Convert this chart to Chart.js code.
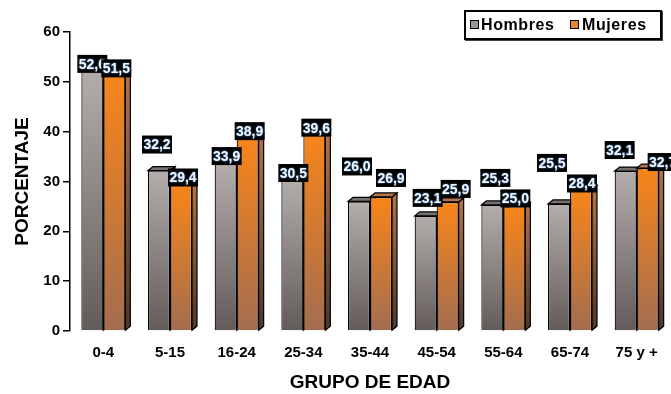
<!DOCTYPE html>
<html>
<head>
<meta charset="utf-8">
<script src="https://cdn.jsdelivr.net/npm/chart.js@4.4.0/dist/chart.umd.min.js"></script>
<style>
  html, body { margin: 0; padding: 0; background: #fff; }
  #wrap { position: relative; width: 671px; height: 394px; }
  #leyenda {
    position: absolute; left: 464px; top: 10px; width: 194px; height: 26px;
    border: 2px solid #000; box-shadow: 1px 1px 0 #444; background: #fff;
    font: bold 16px "Liberation Sans", Arial, sans-serif; letter-spacing: 0.6px;
  }
  #leyenda .cuadro { position: absolute; top: 8px; width: 7px; height: 7px; border: 1.5px solid #000; }
  #leyenda .texto { position: absolute; top: 3px; line-height: 20px; }
</style>
</head>
<body>
<div id="wrap">
  <canvas id="grafico" width="671" height="394"></canvas>
  <div id="leyenda">
    <span class="cuadro" style="left:4px;background:#9d9694"></span><span class="texto" style="left:15px">Hombres</span>
    <span class="cuadro" style="left:104px;background:#ee8429"></span><span class="texto" style="left:116px">Mujeres</span>
  </div>
</div>
<script>
var grupos = ['0-4', '5-15', '16-24', '25-34', '35-44', '45-54', '55-64', '65-74', '75 y +'];
var hombres = [52.6, 32.2, 33.9, 30.5, 26.0, 23.1, 25.3, 25.5, 32.1];
var mujeres = [51.5, 29.4, 38.9, 39.6, 26.9, 25.9, 25.0, 28.4, 32.7];
var ticksY = [0, 10, 20, 30, 40, 50, 60];

// ajuste manual de las etiquetas (px respecto a la punta de cada barra), como en el original
var etiquetaAlto = [
    [5, 26, 6, 6, 35, 18, 27, 41, 21],
    [6, 7, 6, 6, 19, 13, 8, 6, 6]
];
var etiquetaLado = [
    [0, -2, 1, 1, -2, 2, 3, -7, -6],
    [2, 2, 2, 2, 10, 8, 1, 1, 15]
];

var fuente = '"Liberation Sans", Arial, sans-serif';

// relleno degradado por barra (claro arriba, oscuro abajo)
function degradado(arriba, abajo) {
    return function (ctx) {
        var chart = ctx.chart;
        var area = chart.chartArea;
        if (!area || ctx.type !== 'data') return arriba;
        var y = chart.scales.y.getPixelForValue(ctx.raw);
        var g = chart.ctx.createLinearGradient(0, y, 0, area.bottom);
        g.addColorStop(0, arriba);
        g.addColorStop(1, abajo);
        return g;
    };
}

var caras = [
    { lado: ['#6d6664', '#3f3937'], tapa: '#77706e' },
    { lado: ['#b0714a', '#4d372b'], tapa: '#b4764e' }
];

// caras laterales y superiores (efecto 3D), detras de las barras
var efecto3D = {
    id: 'efecto3D',
    beforeDatasetsDraw: function (chart) {
        var c = chart.ctx;
        var dx = 5, dy = 4;
        chart.data.datasets.forEach(function (ds, i) {
            var meta = chart.getDatasetMeta(i);
            meta.data.forEach(function (el) {
                var p = el.getProps(['x', 'y', 'base', 'width'], true);
                var x0 = p.x - p.width / 2, x1 = p.x + p.width / 2;
                c.save();
                c.lineWidth = 1.2;
                c.strokeStyle = '#000';
                var g = c.createLinearGradient(0, p.y, 0, p.base);
                g.addColorStop(0, caras[i].lado[0]);
                g.addColorStop(1, caras[i].lado[1]);
                c.fillStyle = g;
                c.beginPath();
                c.moveTo(x1, p.y);
                c.lineTo(x1 + dx, p.y - dy);
                c.lineTo(x1 + dx, p.base - dy);
                c.lineTo(x1, p.base);
                c.closePath();
                c.fill();
                c.stroke();
                c.fillStyle = caras[i].tapa;
                c.beginPath();
                c.moveTo(x0, p.y);
                c.lineTo(x0 + dx, p.y - dy);
                c.lineTo(x1 + dx, p.y - dy);
                c.lineTo(x1, p.y);
                c.closePath();
                c.fill();
                c.stroke();
                c.restore();
            });
        });
    }
};

// etiquetas de valor en caja negra
var etiquetas = {
    id: 'etiquetas',
    afterDatasetsDraw: function (chart) {
        var c = chart.ctx;
        chart.data.datasets.forEach(function (ds, i) {
            var meta = chart.getDatasetMeta(i);
            meta.data.forEach(function (el, j) {
                var p = el.getProps(['x', 'y'], true);
                var txt = ds.data[j].toFixed(1).replace('.', ',');
                var w = 30, h = 18;
                var cx = p.x + etiquetaLado[i][j];
                var cy = p.y - etiquetaAlto[i][j];
                c.save();
                c.fillStyle = '#000';
                c.fillRect(cx - w / 2, cy - h / 2, w, h);
                c.font = 'bold 14px ' + fuente;
                c.textAlign = 'center';
                c.textBaseline = 'middle';
                c.shadowColor = '#5d9fe0';
                c.shadowBlur = 2;
                c.fillStyle = '#eef5ff';
                c.fillText(txt, cx, cy + 1);
                c.restore();
            });
        });
    }
};

var grafico = new Chart(document.getElementById('grafico').getContext('2d'), {
    type: 'bar',
    data: {
        labels: grupos,
        datasets: [
            {
                label: 'Hombres',
                data: hombres,
                backgroundColor: degradado('#b3adab', '#625b59'),
                borderColor: '#000',
                borderWidth: 1.2
            },
            {
                label: 'Mujeres',
                data: mujeres,
                backgroundColor: degradado('#f8851a', '#a36d50'),
                borderColor: '#000',
                borderWidth: 1.2
            }
        ]
    },
    options: {
        responsive: false,
        animation: false,
        layout: { padding: { left: 0, top: 32, right: 1, bottom: 0 } },
        datasets: { bar: { categoryPercentage: 0.66, barPercentage: 1 } },
        plugins: {
            legend: { display: false },
            tooltip: { enabled: false }
        },
        scales: {
            x: {
                grid: { display: false, drawTicks: false },
                border: { display: false },
                ticks: {
                    color: '#000', padding: 13, maxRotation: 0, autoSkip: false,
                    font: { family: fuente, size: 15, weight: 'bold' }
                },
                title: {
                    display: true, text: 'GRUPO DE EDAD', color: '#000',
                    padding: { top: 0, bottom: 0 },
                    font: { family: fuente, size: 19, weight: 'bold' }
                },
                afterFit: function (scale) { scale.height = 63; }
            },
            y: {
                min: 0, max: 60,
                afterBuildTicks: function (scale) {
                    scale.ticks = ticksY.map(function (v) { return { value: v }; });
                },
                grid: { drawOnChartArea: false, tickLength: 7, color: '#000', lineWidth: 1.5 },
                border: { display: true, color: '#000', width: 1.5 },
                ticks: {
                    color: '#000', padding: 3,
                    font: { family: fuente, size: 15, weight: 'bold' }
                },
                title: {
                    display: true, text: 'PORCENTAJE', color: '#000',
                    padding: { top: 11, bottom: 0 },
                    font: { family: fuente, size: 19, weight: 'bold' }
                },
                afterFit: function (scale) { scale.width = 70; }
            }
        }
    },
    plugins: [efecto3D, etiquetas]
});
</script>
</body>
</html>
